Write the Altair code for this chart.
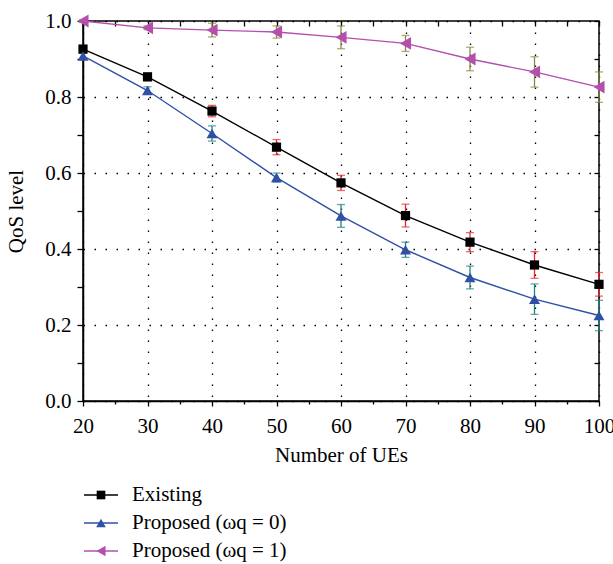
import altair as alt
import pandas as pd

# ---- data ----
ues = [20, 30, 40, 50, 60, 70, 80, 90, 100]
series_names = ["Existing", "Proposed (ωq = 0)", "Proposed (ωq = 1)"]

existing = [0.926, 0.853, 0.763, 0.668, 0.574, 0.488, 0.418, 0.358, 0.307]
existing_err = [0.010, 0.010, 0.015, 0.020, 0.020, 0.030, 0.025, 0.035, 0.031]
proposed0 = [0.908, 0.817, 0.704, 0.588, 0.487, 0.398, 0.325, 0.268, 0.225]
proposed0_err = [0.008, 0.010, 0.020, 0.012, 0.030, 0.020, 0.030, 0.040, 0.040]
proposed1 = [1.000, 0.982, 0.976, 0.971, 0.957, 0.941, 0.900, 0.866, 0.826]
proposed1_err = [0.004, 0.005, 0.018, 0.016, 0.030, 0.021, 0.031, 0.040, 0.040]

x_ticks = [20, 25, 30, 35, 40, 45, 50, 55, 60, 65, 70, 75, 80, 85, 90, 95, 100]
y_ticks = [0.0, 0.1, 0.2, 0.3, 0.4, 0.5, 0.6, 0.7, 0.8, 0.9, 1.0]

line_colors = ["#000000", "#3050a6", "#b44fae"]
err_colors = ["#e8262d", "#1f8585", "#8a883c"]
point_shapes = ["square", "triangle-up", "triangle-left"]
point_sizes = [85, 121, 165]
legend_sizes = [75, 110, 150]

rows = []
for name, vals, errs in zip(series_names, [existing, proposed0, proposed1],
                            [existing_err, proposed0_err, proposed1_err]):
    for x, v, e in zip(ues, vals, errs):
        rows.append({"x": x, "series": name, "y": v, "lo": v - e, "hi": v + e})
df = pd.DataFrame(rows)
leg_df = pd.DataFrame({"series": series_names, "a": 0.0, "m": 0.5, "b": 1.0})

FONT = "Liberation Serif"
FS = 21
xs = alt.Scale(domain=[20, 100], nice=False, zero=False)
ys = alt.Scale(domain=[0, 1], nice=False)
err_scale = alt.Scale(domain=series_names, range=err_colors)
line_scale = alt.Scale(domain=series_names, range=line_colors)

major_x = "datum.value % 10 == 0"
major_y = "round(datum.value * 10) % 2 == 0"

x_bottom = alt.Axis(
    values=x_ticks, title="Number of UEs", labelFlush=False,
    labelExpr=f"{major_x} ? datum.value : ''",
    grid=True, gridDash=[1.5, 9.5], gridColor="#000000", gridWidth=1.3,
    gridOpacity={"condition": {"test": major_x, "value": 1}, "value": 0},
    tickSize={"condition": {"test": major_x, "value": 5}, "value": 3},
    tickColor="#000000", tickWidth=1.3,
    domainColor="#000000", domainWidth=1.5,
    labelFont=FONT, labelFontSize=FS, labelColor="#000000", labelPadding=9,
    titleFont=FONT, titleFontSize=FS, titleFontWeight="normal", titleColor="#000000",
    titlePadding=8,
)
y_left = alt.Axis(
    values=y_ticks, title="QoS level", labelFlush=False,
    labelExpr=f"{major_y} ? format(datum.value, '.1f') : ''",
    grid=True, gridDash=[1.5, 9.5], gridColor="#000000", gridWidth=1.3,
    gridOpacity={"condition": {"test": major_y, "value": 1}, "value": 0},
    tickSize=6, tickColor="#000000", tickWidth=1.3,
    domainColor="#000000", domainWidth=1.5,
    labelFont=FONT, labelFontSize=FS, labelColor="#000000", labelPadding=6,
    titleFont=FONT, titleFontSize=FS, titleFontWeight="normal", titleColor="#000000",
    titlePadding=18,
)
x_top = alt.Axis(orient="top", values=x_ticks, labels=False, title=None, grid=False,
                 domain=False, offset=-5, tickSize=5, tickColor="#000000", tickWidth=1.3)
y_right = alt.Axis(orient="right", values=y_ticks, labels=False, title=None, grid=False,
                   domain=False, offset=-5, tickSize=5, tickColor="#000000", tickWidth=1.3)

base = alt.Chart(df)

err_rule = base.mark_rule(strokeWidth=1.3).encode(
    x=alt.X("x:Q", scale=xs, axis=x_bottom),
    y=alt.Y("lo:Q", scale=ys, axis=y_left),
    y2="hi:Q",
    color=alt.Color("series:N", scale=err_scale, legend=None),
)
err_lo = base.mark_tick(orient="horizontal", size=8, thickness=1.3).encode(
    x=alt.X("x:Q", scale=xs, axis=None),
    y=alt.Y("lo:Q", scale=ys, axis=None),
    color=alt.Color("series:N", scale=err_scale, legend=None),
)
err_hi = base.mark_tick(orient="horizontal", size=8, thickness=1.3).encode(
    x=alt.X("x:Q", scale=xs, axis=None),
    y=alt.Y("hi:Q", scale=ys, axis=None),
    color=alt.Color("series:N", scale=err_scale, legend=None),
)

series_layers = []
for i, (name, col, shp, sz) in enumerate(zip(series_names, line_colors, point_shapes, point_sizes)):
    sub = base.transform_filter(alt.datum.series == name)
    ln = sub.mark_line(strokeWidth=1.4, color=col).encode(
        x=alt.X("x:Q", scale=xs, axis=x_top if i == 0 else None),
        y=alt.Y("y:Q", scale=ys, axis=y_right if i == 0 else None),
    )
    pt = sub.mark_point(filled=True, opacity=1, color=col, shape=shp, size=sz).encode(
        x=alt.X("x:Q", scale=xs, axis=None),
        y=alt.Y("y:Q", scale=ys, axis=None),
    )
    series_layers += [ln, pt]

# ---- legend below the plot, drawn with its own scales ----
leg_x = alt.Scale(domain=[0, 1], range=[1, 35])
leg_y = alt.Scale(type="point", domain=series_names, range=[474, 530], padding=0)
leg_base = alt.Chart(leg_df)
leg_lines = leg_base.mark_rule(strokeWidth=1.4).encode(
    x=alt.X("a:Q", scale=leg_x, axis=None),
    x2="b:Q",
    y=alt.Y("series:N", scale=leg_y, axis=None),
    stroke=alt.Stroke("series:N", scale=line_scale, legend=None),
)
leg_pts = leg_base.mark_point(filled=True, opacity=1).encode(
    x=alt.X("m:Q", scale=leg_x, axis=None),
    y=alt.Y("series:N", scale=leg_y, axis=None),
    fill=alt.Fill("series:N", scale=line_scale, legend=None),
    shape=alt.Shape("series:N", scale=alt.Scale(domain=series_names, range=point_shapes), legend=None),
    size=alt.Size("series:N", scale=alt.Scale(domain=series_names, range=legend_sizes), legend=None),
)
leg_text = leg_base.mark_text(align="left", baseline="middle", dx=14, font=FONT,
                              fontSize=FS, color="#000000").encode(
    x=alt.X("b:Q", scale=leg_x, axis=None),
    y=alt.Y("series:N", scale=leg_y, axis=None),
    text="series:N",
)

chart = alt.layer(err_rule, err_lo, err_hi, *series_layers, leg_lines, leg_pts, leg_text).resolve_axis(
    x="independent", y="independent"
).resolve_scale(x="independent", y="independent").properties(
    width=516, height=380,
    autosize=alt.AutoSizeParams(type="none"),
    padding={"left": 83, "top": 21, "right": 14, "bottom": 163},
).configure_view(stroke="#000000", strokeWidth=1.5)

chart.save("out.html", embed_options={"renderer": "svg", "actions": False})
